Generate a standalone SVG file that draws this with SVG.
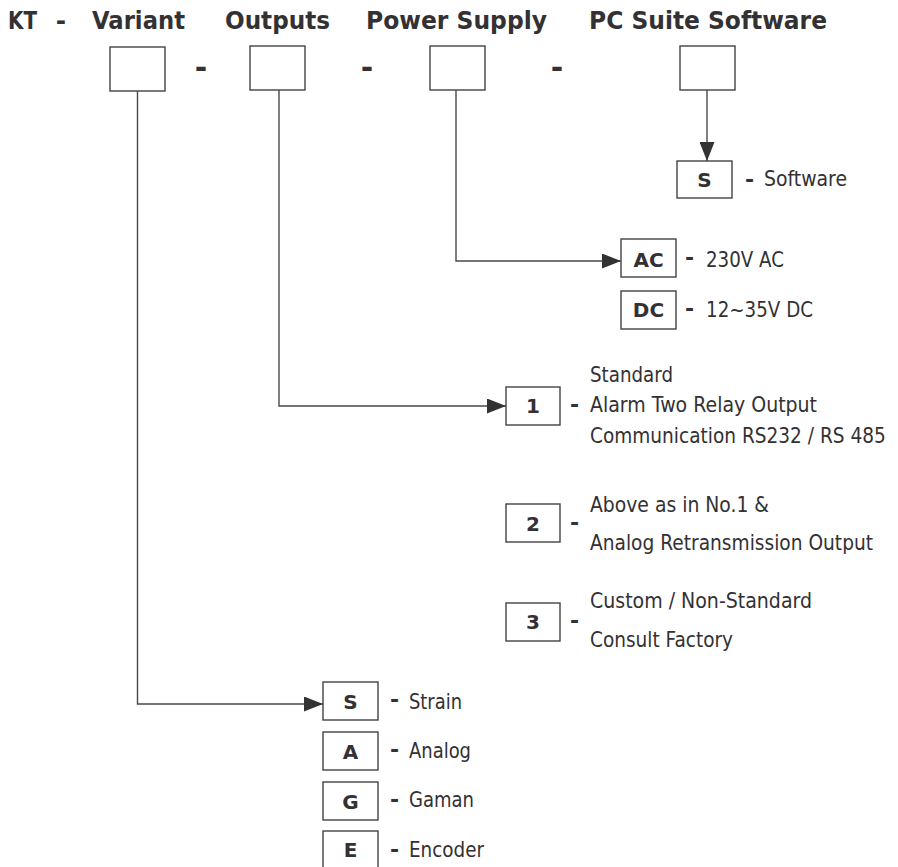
<svg xmlns="http://www.w3.org/2000/svg" width="898" height="867" viewBox="0 0 898 867">
  <style>
    .hdr { font-family: "DejaVu Sans", "Liberation Sans", sans-serif; font-weight: bold; font-size: 25px; fill: #333133; }
    .box { fill: #ffffff; stroke: #444244; stroke-width: 1.4; }
    .code { font-family: "DejaVu Sans", "Liberation Sans", sans-serif; font-weight: bold; font-size: 20px; fill: #333133; text-anchor: middle; }
    .dash { font-family: "DejaVu Sans", "Liberation Sans", sans-serif; font-weight: bold; font-size: 22px; fill: #333133; text-anchor: middle; }
    .sep { font-family: "DejaVu Sans", "Liberation Sans", sans-serif; font-weight: bold; font-size: 30px; fill: #333133; text-anchor: middle; }
    .lbl { font-family: "DejaVu Sans", "Liberation Sans", sans-serif; font-size: 21px; fill: #333133; }
    .wire { fill: none; stroke: #4a484a; stroke-width: 1.4; }
  </style>
  <defs>
    <marker id="arrow" markerUnits="userSpaceOnUse" markerWidth="19" markerHeight="15" refX="19" refY="7.5" orient="auto">
      <path d="M0,0 L19,7.5 L0,15 Z" fill="#333133"/>
    </marker>
  </defs>

  <rect width="898" height="867" fill="#ffffff"/>

  <!-- Header titles -->
  <g id="header">
    <text class="hdr" x="8" y="29" textLength="29" lengthAdjust="spacingAndGlyphs">KT</text>
    <text class="hdr" x="61" y="29" text-anchor="middle">-</text>
    <text class="hdr" x="92" y="29" textLength="93" lengthAdjust="spacingAndGlyphs">Variant</text>
    <text class="hdr" x="225" y="29" textLength="105" lengthAdjust="spacingAndGlyphs">Outputs</text>
    <text class="hdr" x="366" y="29" textLength="181" lengthAdjust="spacingAndGlyphs">Power Supply</text>
    <text class="hdr" x="589" y="29" textLength="238" lengthAdjust="spacingAndGlyphs">PC Suite Software</text>
  </g>

  <!-- Empty code slots -->
  <g id="slot-variant"><rect class="box" x="110" y="47" width="55" height="44"/></g>
  <g id="slot-outputs"><rect class="box" x="250" y="46" width="55" height="44"/></g>
  <g id="slot-power"><rect class="box" x="430" y="46" width="55" height="44"/></g>
  <g id="slot-software"><rect class="box" x="680" y="46" width="55" height="44"/></g>
  <g id="slot-separators">
    <text class="sep" x="201" y="78">-</text>
    <text class="sep" x="367" y="78">-</text>
    <text class="sep" x="557" y="78">-</text>
  </g>

  <!-- Connectors -->
  <g id="connectors">
    <path class="wire" d="M707,90 V161" marker-end="url(#arrow)"/>
    <path class="wire" d="M456,90 V261 H621" marker-end="url(#arrow)"/>
    <path class="wire" d="M279,90 V406 H506" marker-end="url(#arrow)"/>
    <path class="wire" d="M137.5,91 V704 H323" marker-end="url(#arrow)"/>
  </g>

  <!-- PC suite software option -->
  <g id="opt-software">
    <rect class="box" x="677" y="161" width="55" height="37"/>
    <text class="code" x="704.5" y="186.5">S</text>
    <text class="dash" x="749.5" y="186.5">-</text>
    <text class="lbl" x="764" y="186" textLength="83" lengthAdjust="spacingAndGlyphs">Software</text>
  </g>

  <!-- Power supply options -->
  <g id="opt-ac">
    <rect class="box" x="621" y="239" width="55" height="38"/>
    <text class="code" x="648.5" y="266.5">AC</text>
    <text class="dash" x="689.5" y="264.5">-</text>
    <text class="lbl" x="706" y="266.5" textLength="78" lengthAdjust="spacingAndGlyphs">230V AC</text>
  </g>
  <g id="opt-dc">
    <rect class="box" x="621" y="291" width="55" height="38"/>
    <text class="code" x="648.5" y="317">DC</text>
    <text class="dash" x="689.5" y="315.5">-</text>
    <text class="lbl" x="706" y="316.5" textLength="107" lengthAdjust="spacingAndGlyphs">12~35V DC</text>
  </g>

  <!-- Output options -->
  <g id="opt-out-1">
    <rect class="box" x="506" y="387" width="54" height="38"/>
    <text class="code" x="533" y="413">1</text>
    <text class="dash" x="574.5" y="412">-</text>
    <text class="lbl" x="590" y="381.5" textLength="83" lengthAdjust="spacingAndGlyphs">Standard</text>
    <text class="lbl" x="590" y="411.5" textLength="227" lengthAdjust="spacingAndGlyphs">Alarm Two Relay Output</text>
    <text class="lbl" transform="translate(590,442.5) scale(0.85,1)" textLength="348" lengthAdjust="spacingAndGlyphs">Communication RS232 / RS 485</text>
  </g>
  <g id="opt-out-2">
    <rect class="box" x="506" y="504" width="54" height="38"/>
    <text class="code" x="533" y="531">2</text>
    <text class="dash" x="574.5" y="529.5">-</text>
    <text class="lbl" x="590" y="511.5" textLength="179" lengthAdjust="spacingAndGlyphs">Above as in No.1 &amp;</text>
    <text class="lbl" transform="translate(590,550) scale(0.85,1)" textLength="333" lengthAdjust="spacingAndGlyphs">Analog Retransmission Output</text>
  </g>
  <g id="opt-out-3">
    <rect class="box" x="506" y="603" width="54" height="38"/>
    <text class="code" x="533" y="629">3</text>
    <text class="dash" x="574.5" y="628">-</text>
    <text class="lbl" x="590" y="608" textLength="222" lengthAdjust="spacingAndGlyphs">Custom / Non-Standard</text>
    <text class="lbl" x="590" y="646.5" textLength="143" lengthAdjust="spacingAndGlyphs">Consult Factory</text>
  </g>

  <!-- Variant options -->
  <g id="opt-var-s">
    <rect class="box" x="323" y="682" width="55" height="38"/>
    <text class="code" x="350.5" y="709">S</text>
    <text class="dash" x="394.5" y="707">-</text>
    <text class="lbl" x="409" y="709" textLength="53" lengthAdjust="spacingAndGlyphs">Strain</text>
  </g>
  <g id="opt-var-a">
    <rect class="box" x="323" y="732" width="55" height="38"/>
    <text class="code" x="350.5" y="759">A</text>
    <text class="dash" x="394.5" y="756.5">-</text>
    <text class="lbl" x="409" y="757.5" textLength="62" lengthAdjust="spacingAndGlyphs">Analog</text>
  </g>
  <g id="opt-var-g">
    <rect class="box" x="323" y="782" width="55" height="38"/>
    <text class="code" x="350.5" y="809">G</text>
    <text class="dash" x="394.5" y="806.5">-</text>
    <text class="lbl" x="409" y="807" textLength="65" lengthAdjust="spacingAndGlyphs">Gaman</text>
  </g>
  <g id="opt-var-e">
    <rect class="box" x="323" y="831" width="55" height="38"/>
    <text class="code" x="350.5" y="857">E</text>
    <text class="dash" x="394.5" y="856.5">-</text>
    <text class="lbl" x="409" y="857" textLength="75" lengthAdjust="spacingAndGlyphs">Encoder</text>
  </g>
</svg>
